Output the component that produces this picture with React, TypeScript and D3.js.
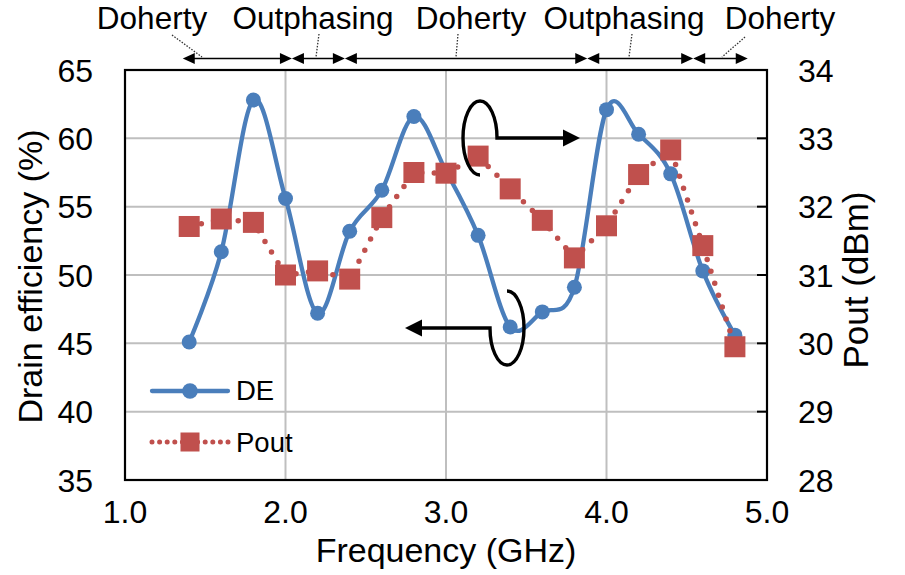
import React from "react";
import * as d3 from "d3";

// ---------- data ----------
const freqs = [1.4, 1.6, 1.8, 2.0, 2.2, 2.4, 2.6, 2.8, 3.0, 3.2, 3.4, 3.6, 3.8, 4.0, 4.2, 4.4, 4.6, 4.8];
const deValues = [45.1, 51.7, 62.8, 55.6, 47.2, 53.2, 56.2, 61.6, 57.6, 52.9, 46.2, 47.3, 49.1, 62.1, 60.3, 57.4, 50.3, 45.6];
const poutValues = [31.71, 31.82, 31.77, 31.0, 31.06, 30.94, 31.84, 32.5, 32.49, 32.74, 32.26, 31.8, 31.25, 31.72, 32.47, 32.83, 31.43, 29.95];

const xTicks = [1.0, 2.0, 3.0, 4.0, 5.0];
const yLeftTicks = [35, 40, 45, 50, 55, 60, 65];
const yRightTicks = [28, 29, 30, 31, 32, 33, 34];

const modeLabels = ["Doherty", "Outphasing", "Doherty", "Outphasing", "Doherty"];
const modeBounds = [1.36, 2.04, 2.37, 3.88, 4.54, 4.88];

const seriesNames = ["DE", "Pout"];
const xTitle = "Frequency (GHz)";
const yLeftTitle = "Drain efficiency (%)";
const yRightTitle = "Pout (dBm)";

// ---------- layout ----------
const W = 905;
const H = 575;
const PL = 125, PR = 767, PT = 70, PB = 480;
const FONT = "'Liberation Sans', Arial, Helvetica, sans-serif";
const BLUE = "#4A7EBB";
const RED = "#C0504D";
const GRID = "#BFBFBF";

// label anchors (pixel x of each mode label centre) and leader lines
const modeLabelX = [152, 313, 471, 624, 780];
const leaders = [
  [172, 35, 202, 57],
  [319, 34, 316, 57],
  [458, 34, 456, 57],
  [632, 34, 629, 57],
  [745, 37, 722, 57],
];

export default function App() {
  const x = d3.scaleLinear().domain([1, 5]).range([PL, PR]);
  const yL = d3.scaleLinear().domain([35, 65]).range([PB, PT]);
  const yR = d3.scaleLinear().domain([28, 34]).range([PB, PT]);

  const deLine = d3
    .line<number>()
    .x((_, i) => x(freqs[i]))
    .y((d) => yL(d))
    .curve(d3.curveCatmullRom.alpha(0));
  const poutLine = d3
    .line<number>()
    .x((_, i) => x(freqs[i]))
    .y((d) => yR(d));

  const arrowY = 58.5;
  const headL = 12;
  const headH = 5.5;

  // axis indicator arrows
  const rcx = 480, rcy = 138, rx = 17, ry = 37;
  const rTip = 580;
  const lcx = 507, lcy = 328;
  const lTip = 405;

  const sq = 21;
  const legSq = 19;

  return (
    <svg
      width={W}
      height={H}
      viewBox={`0 0 ${W} ${H}`}
      style={{ position: "absolute", left: 0, top: 0, background: "#fff" }}
      fontFamily={FONT}
    >
      <rect x={0} y={0} width={W} height={H} fill="#fff" />

      {/* gridlines */}
      {xTicks.slice(1, -1).map((t) => (
        <line key={"gx" + t} x1={x(t)} x2={x(t)} y1={PT} y2={PB} stroke={GRID} strokeWidth={2} />
      ))}
      {yLeftTicks.slice(1, -1).map((t) => (
        <line key={"gy" + t} x1={PL} x2={PR} y1={yL(t)} y2={yL(t)} stroke={GRID} strokeWidth={2} />
      ))}

      {/* right axis inner ticks */}
      {yRightTicks.map((t) => (
        <line key={"rt" + t} x1={PR - 10} x2={PR} y1={yR(t)} y2={yR(t)} stroke="#000" strokeWidth={2} />
      ))}

      {/* plot frame */}
      <rect x={PL} y={PT} width={PR - PL} height={PB - PT} fill="none" stroke="#000" strokeWidth={2.2} />

      {/* DE series */}
      <path d={deLine(deValues) || ""} fill="none" stroke={BLUE} strokeWidth={4.3} />
      {deValues.map((v, i) => (
        <circle key={"de" + i} cx={x(freqs[i])} cy={yL(v)} r={7.5} fill={BLUE} />
      ))}

      {/* Pout series */}
      <path
        d={poutLine(poutValues) || ""}
        fill="none"
        stroke={RED}
        strokeWidth={5.5}
        strokeDasharray="0 12.5"
        strokeLinecap="round"
      />
      {poutValues.map((v, i) => (
        <rect key={"po" + i} x={x(freqs[i]) - sq / 2} y={yR(v) - sq / 2} width={sq} height={sq} fill={RED} />
      ))}

      {/* left axis labels */}
      {yLeftTicks.map((t) => (
        <text key={"yl" + t} x={93} y={yL(t) + 11.5} fontSize={32} textAnchor="end" fill="#000">
          {t}
        </text>
      ))}
      {/* right axis labels */}
      {yRightTicks.map((t) => (
        <text key={"yr" + t} x={798} y={yR(t) + 11.5} fontSize={32} textAnchor="start" fill="#000">
          {t}
        </text>
      ))}
      {/* x axis labels */}
      {xTicks.map((t) => (
        <text key={"xt" + t} x={x(t)} y={523} fontSize={32} textAnchor="middle" fill="#000">
          {t.toFixed(1)}
        </text>
      ))}

      {/* axis titles */}
      <text x={x(3)} y={562} fontSize={34} textAnchor="middle" fill="#000">
        {xTitle}
      </text>
      <text transform={`translate(41.5,276.5) rotate(-90)`} fontSize={34} textAnchor="middle" fill="#000">
        {yLeftTitle}
      </text>
      <text transform={`translate(868,280) rotate(-90)`} fontSize={35} textAnchor="middle" fill="#000">
        {yRightTitle}
      </text>

      {/* legend */}
      <line x1={152} x2={228} y1={391} y2={391} stroke={BLUE} strokeWidth={4.3} strokeLinecap="round" />
      <circle cx={190} cy={391} r={7.8} fill={BLUE} />
      <text x={236} y={399.5} fontSize={27.5} fill="#000">
        {seriesNames[0]}
      </text>
      <line
        x1={152}
        x2={229}
        y1={442}
        y2={442}
        stroke={RED}
        strokeWidth={5}
        strokeDasharray="0 7.6"
        strokeLinecap="round"
      />
      <rect x={190 - legSq / 2} y={442 - legSq / 2} width={legSq} height={legSq} fill={RED} />
      <text x={236} y={451.5} fontSize={27.5} fill="#000">
        {seriesNames[1]}
      </text>

      {/* axis indicator: Pout -> right axis */}
      <path
        d={`M ${rTip - 14} ${rcy} L ${rcx + rx} ${rcy} A ${rx} ${ry} 0 1 0 ${rcx} ${rcy + ry}`}
        fill="none"
        stroke="#000"
        strokeWidth={3.4}
      />
      <polygon points={`${rTip},${rcy} ${rTip - 17},${rcy - 8.5} ${rTip - 17},${rcy + 8.5}`} fill="#000" />

      {/* axis indicator: DE -> left axis */}
      <path
        d={`M ${lcx} ${lcy - ry} A ${rx} ${ry} 0 1 1 ${lcx - rx} ${lcy} L ${lTip + 14} ${lcy}`}
        fill="none"
        stroke="#000"
        strokeWidth={3.4}
      />
      <polygon points={`${lTip},${lcy} ${lTip + 17},${lcy - 8.5} ${lTip + 17},${lcy + 8.5}`} fill="#000" />

      {/* operating-mode annotations */}
      {modeLabels.map((lab, i) => {
        const xa = x(modeBounds[i]);
        const xb = x(modeBounds[i + 1]);
        return (
          <g key={"mode" + i}>
            <line x1={xa + 6} x2={xb - 6} y1={arrowY} y2={arrowY} stroke="#000" strokeWidth={1.6} />
            <polygon
              points={`${xa},${arrowY} ${xa + headL},${arrowY - headH} ${xa + headL},${arrowY + headH}`}
              fill="#000"
            />
            <polygon
              points={`${xb},${arrowY} ${xb - headL},${arrowY - headH} ${xb - headL},${arrowY + headH}`}
              fill="#000"
            />
            <text x={modeLabelX[i]} y={29} fontSize={31.5} textAnchor="middle" fill="#000">
              {lab}
            </text>
            <line
              x1={leaders[i][0]}
              y1={leaders[i][1]}
              x2={leaders[i][2]}
              y2={leaders[i][3]}
              stroke="#333"
              strokeWidth={1.3}
              strokeDasharray="1.5 1.5"
            />
          </g>
        );
      })}
    </svg>
  );
}
